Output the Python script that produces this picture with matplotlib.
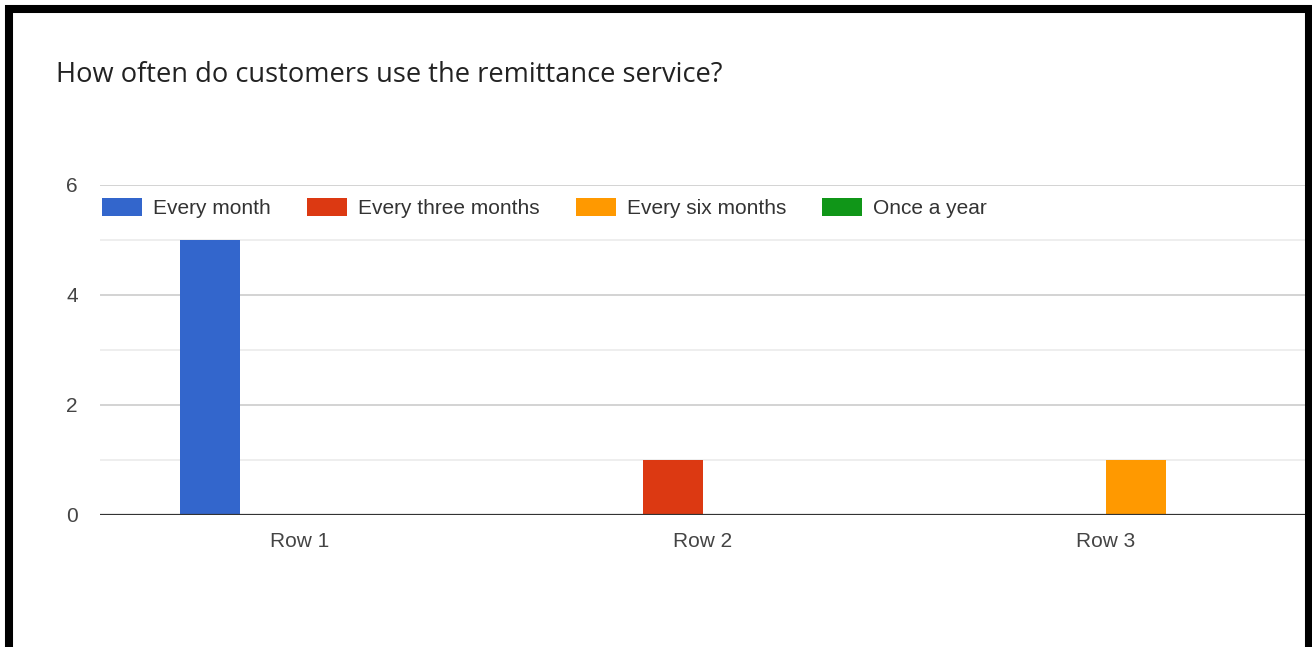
import matplotlib
matplotlib.use("Agg")
import matplotlib.pyplot as plt
from matplotlib.patches import Rectangle, Patch
import numpy as np

# survey answers per row
rows = ["Row 1", "Row 2", "Row 3"]
series = ["Every month", "Every three months", "Every six months", "Once a year"]
every_month = [5, 0, 0]
every_three_months = [0, 1, 0]
every_six_months = [0, 0, 1]
once_a_year = [0, 0, 0]
colors = ["#3366cc", "#dc3912", "#ff9900", "#109618"]

W, H = 1312, 647
fig = plt.figure(figsize=(W / 100, H / 100), dpi=100)
ax = fig.add_axes([100 / W, (H - 515) / H, 1210 / W, 330 / H])

x = np.arange(len(rows))
bw = 0.148
values = [every_month, every_three_months, every_six_months, once_a_year]
for i, (vals, c) in enumerate(zip(values, colors)):
    ax.bar(x + (i - 1.5) * bw, vals, width=bw, color=c, zorder=3)

ax.set_xlim(-0.494, 2.506)
ax.set_ylim(0, 6)
ax.set_yticks([0, 2, 4, 6])
ax.set_yticks([1, 3, 5], minor=True)
ax.set_xticks(x)
ax.set_xticklabels(rows)
ax.grid(axis="y", which="major", color="#cccccc", linewidth=1.2, zorder=0)
ax.grid(axis="y", which="minor", color="#ebebeb", linewidth=1.2, zorder=0)
ax.axhline(0, color="#333333", linewidth=1.6, zorder=4)
for s in ax.spines.values():
    s.set_visible(False)
ax.tick_params(axis="both", which="both", length=0, labelsize=15, labelcolor="#444444")
ax.tick_params(axis="y", pad=16)
ax.tick_params(axis="x", pad=12)
for lab in ax.get_xticklabels() + ax.get_yticklabels():
    lab.set_family("Liberation Sans")

handles = [Patch(facecolor=c, label=s) for c, s in zip(colors, series)]
fig.legend(handles=handles, loc="center left", bbox_to_anchor=(102 / W, (H - 208) / H),
           ncol=4, frameon=False, borderpad=0, borderaxespad=0,
           handlelength=1.92, handleheight=0.95, handletextpad=0.53, columnspacing=1.73,
           prop={"family": "Liberation Sans", "size": 15}, labelcolor="#333333")

fig.text(56 / W, (H - 75) / H, "How often do customers use the remittance service?",
         fontsize=19.6, family="Open Sans", color="#222222", va="center", ha="left")

# thick black frame round the chart
fig.patches.append(Rectangle((9 / W, -10 / H), 1300 / W, (H - 9 + 10) / H,
                             transform=fig.transFigure, fill=False,
                             edgecolor="black", linewidth=5.8, zorder=10))

fig.savefig("out.png", dpi=100)
